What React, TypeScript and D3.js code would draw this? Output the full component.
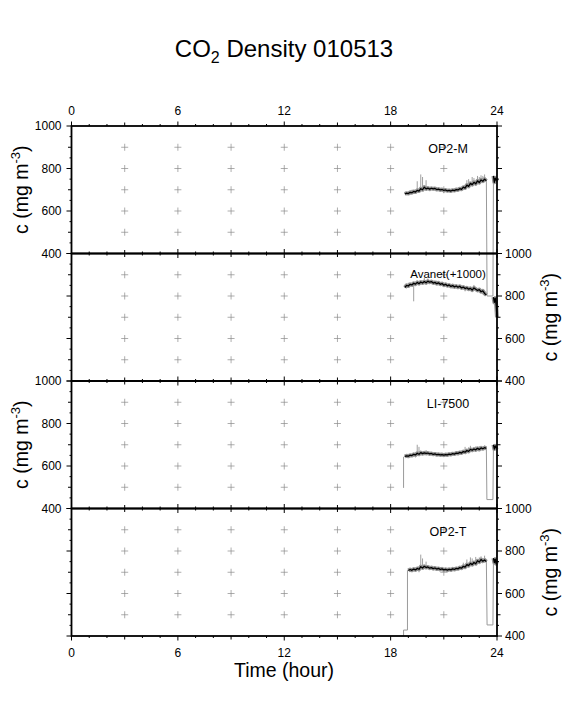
import * as d3 from "d3";

// hour grid of the averaged trace, 0.1 h steps from 18.8 to 23.4
const HOURS = d3.range(47).map((i) => +(18.8 + i * 0.1).toFixed(2));
const TAIL_HOURS = [23.8, 23.85, 23.9, 23.95, 24.0];

const X_LABELS = [0, 6, 12, 18, 24];
const Y_LABELS = [400, 600, 800, 1000];
const GRID_HOURS = [3, 6, 9, 12, 15, 18, 21];
const GRID_VALUES = [500, 600, 700, 800, 900];

const PANEL_NAMES = ["OP2-M", "Avanet(+1000)", "LI-7500", "OP2-T"];

const op2mMean = [
  680, 684, 682, 688, 686, 692, 689, 697, 694, 705,
  700, 712, 704, 708, 703, 707, 704, 706, 701, 703,
  699, 701, 697, 699, 695, 697, 694, 698, 696, 701,
  699, 705, 702, 712, 708, 722, 716, 730, 724, 735,
  728, 742, 734, 746, 740, 750, 742,
];
const op2mTail = [765, 735, 755, 745, 750];
const op2mGap: [number, number][] = [[23.4, 742], [23.44, 200], [23.77, 200], [23.8, 765]];
const op2mSpikes: [number, number][] = [
  [19.5, 740], [19.7, 772], [19.8, 760], [20.0, 745], [22.3, 745],
  [22.6, 760], [22.9, 765], [23.1, 768], [23.3, 772], [21.0, 685],
  [22.4, 750], [22.7, 755], [23.0, 760], [19.2, 700], [23.2, 765],
];

const avanetMean = [
  840, 850, 847, 855, 852, 860, 856, 864, 858, 866,
  861, 868, 862, 870, 865, 868, 861, 864, 858, 862,
  855, 859, 851, 855, 848, 852, 845, 849, 843, 847,
  841, 846, 838, 842, 835, 839, 832, 836, 828, 838,
  832, 826, 830, 820, 824, 812, 805,
];
const avanetTail = [795, 770, 790, 760, 700];
const avanetGap: [number, number][] = [];
const avanetSpikes: [number, number][] = [
  [19.3, 775], [19.9, 885], [20.1, 882], [22.7, 852], [21.5, 835],
  [23.2, 808], [19.0, 862], [20.6, 872], [22.2, 822],
];

const li7500Mean = [
  645, 648, 646, 651, 649, 655, 652, 660, 655, 663,
  658, 662, 659, 661, 657, 659, 655, 657, 653, 655,
  652, 654, 651, 654, 652, 656, 654, 658, 656, 661,
  659, 664, 661, 668, 665, 673, 669, 678, 674, 680,
  676, 683, 678, 685, 681, 686, 683,
];
const li7500Tail = [700, 680, 695, 685, 690];
const li7500Gap: [number, number][] = [
  [18.73, 497], [18.73, 642], [18.8, 645],
  [23.4, 683], [23.43, 442], [23.77, 442], [23.8, 700],
];
const li7500Spikes: [number, number][] = [
  [19.5, 700], [19.6, 690], [20.0, 675], [22.2, 690], [22.5, 695],
  [22.8, 692], [23.1, 695], [23.3, 697], [19.4, 640], [22.4, 688],
  [23.0, 694],
];

const op2tMean = [
  null, null, 708, 713, 709, 715, 711, 718, 714, 726,
  720, 728, 722, 725, 719, 722, 717, 720, 715, 718,
  713, 716, 711, 714, 710, 714, 711, 716, 713, 718,
  716, 722, 719, 728, 724, 736, 731, 742, 736, 746,
  740, 754, 748, 760, 752, 758, 750,
];
const op2tTail = [767, 745, 762, 740, 755];
const op2tGap: [number, number][] = [
  [18.73, 400], [18.73, 428], [18.95, 428], [18.95, 709], [19.0, 708],
  [23.4, 750], [23.44, 452], [23.77, 452], [23.8, 767],
];
const op2tSpikes: [number, number][] = [
  [19.7, 783], [19.8, 765], [20.0, 750], [22.3, 760], [22.5, 770],
  [22.8, 772], [23.1, 775], [23.3, 778], [19.6, 700], [22.6, 765],
  [23.0, 770], [22.1, 745],
];

const W = 569;
const H = 709;
const LEFT = 71.5;
const RIGHT = 497;
const TOP = 126;
const PANEL_H = 127.5;
const FONT = "'Liberation Sans', Arial, Helvetica, sans-serif";

type Pt = [number, number | null];

const panels = [
  { name: PANEL_NAMES[0], mean: op2mMean, tail: op2mTail, gap: op2mGap, spikes: op2mSpikes, side: "left", labelY: 27, labelSize: 12.5 },
  { name: PANEL_NAMES[1], mean: avanetMean, tail: avanetTail, gap: avanetGap, spikes: avanetSpikes, side: "right", labelY: 24, labelSize: 11.5 },
  { name: PANEL_NAMES[2], mean: li7500Mean, tail: li7500Tail, gap: li7500Gap, spikes: li7500Spikes, side: "left", labelY: 27, labelSize: 12.5 },
  { name: PANEL_NAMES[3], mean: op2tMean, tail: op2tTail, gap: op2tGap, spikes: op2tSpikes, side: "right", labelY: 27, labelSize: 12.5 },
];

const x = d3.scaleLinear().domain([0, 24]).range([LEFT, RIGHT]);

const YTitle = ({ tx, cy }: { tx: number; cy: number }) => (
  <text
    transform={`translate(${tx},${cy}) rotate(-90)`}
    textAnchor="middle"
    fontSize={19.5}
  >
    c (mg m<tspan fontSize={13} dy={-8}>-3</tspan>
    <tspan dy={8}>)</tspan>
  </text>
);

const Panel = ({ p, index }: { p: (typeof panels)[number]; index: number }) => {
  const top = TOP + index * PANEL_H;
  const bottom = top + PANEL_H;
  const y = d3.scaleLinear().domain([400, 1000]).range([bottom, top]);

  const line = d3
    .line<Pt>()
    .defined((d) => d[1] != null)
    .x((d) => x(d[0]))
    .y((d) => y(d[1] as number));
  const gapLine = d3
    .line<[number, number]>()
    .x((d) => x(d[0]))
    .y((d) => y(d[1]));

  const meanPts: Pt[] = HOURS.map((h, i) => [h, p.mean[i]]);
  const tailPts: Pt[] = TAIL_HOURS.map((h, i) => [h, p.tail[i]]);
  const meanAt = (h: number) => p.mean[Math.round((h - 18.8) / 0.1)] as number;

  // start segment (if any) and end gap are drawn as separate paths
  const startGap = p.gap.length > 4 ? p.gap.slice(0, p.gap.length - 4) : [];
  const endGap = p.gap.length >= 4 ? p.gap.slice(-4) : [];

  const hourTicks = d3.range(0, 25);
  const valueTicks = d3.range(400, 1001, 50);
  const hLen = (h: number) => (h % 6 === 0 ? 4.5 : h % 3 === 0 ? 3.5 : 2);
  const vLen = (v: number) => (v % 200 === 0 ? 5 : v % 100 === 0 ? 3.5 : 2);

  return (
    <g>
      {/* grid crosses */}
      <g stroke="#8a8a8a" strokeWidth={0.7}>
        {GRID_HOURS.map((h) =>
          GRID_VALUES.map((v) => (
            <g key={`${h}-${v}`}>
              <line x1={x(h) - 3.5} x2={x(h) + 3.5} y1={y(v)} y2={y(v)} />
              <line x1={x(h)} x2={x(h)} y1={y(v) - 3.5} y2={y(v) + 3.5} />
            </g>
          )),
        )}
      </g>

      {/* raw-data halo */}
      <g fill="none" stroke="#959595" strokeLinejoin="round">
        <path d={line(meanPts) ?? ""} strokeWidth={4} />
        <path d={line(tailPts) ?? ""} strokeWidth={4} />
        {p.spikes.map(([h, v], i) => (
          <line key={i} x1={x(h)} x2={x(h)} y1={y(meanAt(h))} y2={y(v)} strokeWidth={0.9} />
        ))}
        {startGap.length > 0 && <path d={gapLine(startGap) ?? ""} stroke="#9a9a9a" strokeWidth={1} />}
        {endGap.length > 0 && <path d={gapLine(endGap) ?? ""} stroke="#9a9a9a" strokeWidth={1} />}
      </g>

      {/* averaged trace */}
      <g fill="none" stroke="#000" strokeWidth={1.3} strokeLinejoin="round">
        <path d={line(meanPts) ?? ""} />
        <path d={line(tailPts) ?? ""} />
      </g>

      {/* frame */}
      <rect
        x={LEFT}
        y={top}
        width={RIGHT - LEFT}
        height={PANEL_H}
        fill="none"
        stroke="#000"
        strokeWidth={1.8}
      />

      {/* ticks, all pointing outward */}
      <g stroke="#000" strokeWidth={1}>
        {hourTicks.map((h) => (
          <g key={h}>
            <line x1={x(h)} x2={x(h)} y1={top} y2={top - hLen(h)} />
            <line x1={x(h)} x2={x(h)} y1={bottom} y2={bottom + hLen(h)} />
          </g>
        ))}
        {valueTicks.map((v) => (
          <g key={v}>
            <line x1={LEFT} x2={LEFT - vLen(v)} y1={y(v)} y2={y(v)} />
            <line x1={RIGHT} x2={RIGHT + vLen(v)} y1={y(v)} y2={y(v)} />
          </g>
        ))}
      </g>

      {/* value labels */}
      <g fontSize={12}>
        {Y_LABELS.map((v) =>
          p.side === "left" ? (
            <text key={v} x={LEFT - 10} y={y(v)} dy="0.36em" textAnchor="end">
              {v}
            </text>
          ) : (
            <text key={v} x={RIGHT + 8} y={y(v)} dy="0.36em" textAnchor="start">
              {v}
            </text>
          ),
        )}
      </g>

      <text x={448} y={top + p.labelY} fontSize={p.labelSize} textAnchor="middle">
        {p.name}
      </text>

      {p.side === "left" ? (
        <YTitle tx={28} cy={(top + bottom) / 2} />
      ) : (
        <YTitle tx={557} cy={(top + bottom) / 2} />
      )}
    </g>
  );
};

export default function App() {
  const plotBottom = TOP + 4 * PANEL_H;
  return (
    <svg
      width={W}
      height={H}
      viewBox={`0 0 ${W} ${H}`}
      style={{ position: "absolute", left: 0, top: 0, background: "#fff" }}
      fontFamily={FONT}
    >
      <rect width={W} height={H} fill="#fff" />
      <text x={284} y={57} fontSize={24} textAnchor="middle">
        CO<tspan fontSize={16} dy={6}>2</tspan>
        <tspan dy={-6}> Density 010513</tspan>
      </text>

      {panels.map((p, i) => (
        <Panel key={p.name} p={p} index={i} />
      ))}

      <g fontSize={12} textAnchor="middle">
        {X_LABELS.map((h) => (
          <text key={`t${h}`} x={x(h)} y={TOP - 11}>
            {h}
          </text>
        ))}
        {X_LABELS.map((h) => (
          <text key={`b${h}`} x={x(h)} y={plotBottom + 21}>
            {h}
          </text>
        ))}
      </g>

      <text x={284} y={677} fontSize={19.5} textAnchor="middle">
        Time (hour)
      </text>
    </svg>
  );
}
